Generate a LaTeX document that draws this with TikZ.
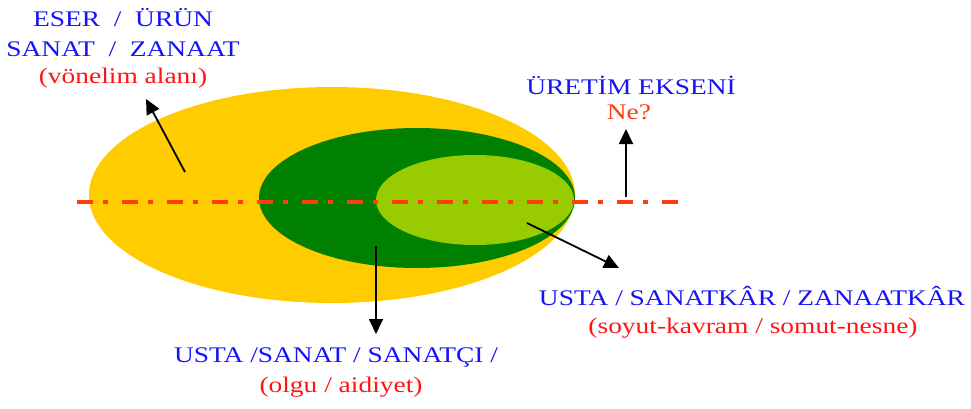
\documentclass[tikz,border=0pt]{standalone}
\usepackage{fontspec}
\setmainfont[FakeStretch=1.23]{Liberation Serif}
\usetikzlibrary{arrows.meta}
\definecolor{cyellow}{RGB}{255,204,0}
\definecolor{cdgreen}{RGB}{0,128,0}
\definecolor{clgreen}{RGB}{153,204,0}
\definecolor{cblue}{RGB}{20,20,245}
\definecolor{cred}{RGB}{255,20,20}
\definecolor{corange}{RGB}{255,60,10}
\begin{document}
\begin{tikzpicture}[x=1pt,y=-1pt,
  bluetxt/.style={text=cblue,font=\fontsize{22.3}{26}\selectfont,anchor=base,inner sep=0pt},
  redtxt/.style={text=cred,font=\fontsize{22.3}{26}\selectfont,anchor=base,inner sep=0pt},
  axisline/.style={draw=corange,line width=3.5pt,dash pattern=on 16pt off 10pt on 5pt off 14pt},
  pointer/.style={draw=black,line width=1.8pt,-{Triangle[length=15pt,width=14pt]}}]
\useasboundingbox (0,0) rectangle (971,409);
% ellipses
\fill[cyellow] (332,195) ellipse [x radius=243,y radius=108];
\fill[cdgreen] (417,198) ellipse [x radius=158,y radius=70];
\fill[clgreen] (475,200) ellipse [x radius=99,y radius=45];
% axis
\coordinate (axL) at (77,202);
\coordinate (axR) at (680,202);
\draw[axisline] (axL) -- (axR);
% texts
\node[bluetxt] (t1) at (123,27) {ESER \ / \ ÜRÜN};
\node[bluetxt] (t2) at (123,57) {SANAT \ / \ ZANAAT};
\node[redtxt] (t3) at (123,84) {(vönelim alanı)};
\node[bluetxt] (u1) at (631,95) {ÜRETİM EKSENİ};
\node[text=corange,font=\fontsize{22.3}{26}\selectfont,anchor=base,inner sep=0pt] (u2) at (629,120) {Ne?};
\node[bluetxt] (s1) at (752,305) {USTA / SANATKÂR / ZANAATKÂR};
\node[redtxt] (s2) at (753,333) {(soyut-kavram / somut-nesne)};
\node[bluetxt] (b1) at (336,362) {USTA /SANAT / SANATÇI /};
\node[redtxt] (b2) at (341,392) {(olgu / aidiyet)};
% arrows
\coordinate (a1s) at (185,172);
\coordinate (a1e) at (146,99);
\coordinate (a2s) at (626,197);
\coordinate (a2e) at (626,129);
\coordinate (a3s) at (376,246);
\coordinate (a3e) at (376,334);
\coordinate (a4s) at (527,223);
\coordinate (a4e) at (619,268);
\draw[pointer] (a1s) -- (a1e);
\draw[pointer] (a2s) -- (a2e);
\draw[pointer] (a3s) -- (a3e);
\draw[pointer] (a4s) -- (a4e);
\end{tikzpicture}
\end{document}
